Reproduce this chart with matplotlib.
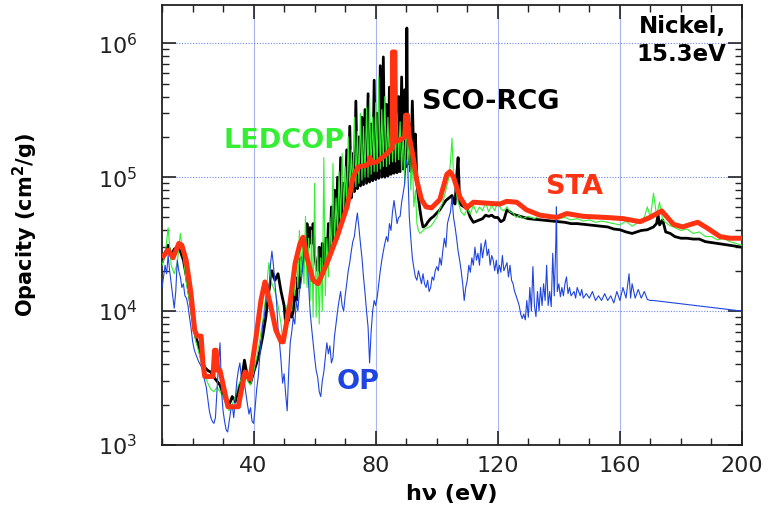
import matplotlib
matplotlib.use("Agg")
import matplotlib.pyplot as plt
import matplotlib.ticker as mticker

# photon energy (eV) and opacity (cm^2/g) for each code

sco_e = [10, 11, 12, 13, 14, 15, 16, 17, 18, 19, 20, 21, 22, 23, 24, 25, 26, 27, 28, 29,
         30, 31, 32, 33, 34, 35, 36, 37, 38, 39, 40, 41, 42, 43, 44, 45, 46, 47, 48, 49,
         50, 50.5, 51, 51.5, 52, 52.5, 53, 53.5, 54, 54.5, 55, 55.5, 56, 56.5, 57, 57.5,
         58, 58.5, 59, 59.5, 60, 60.5, 61, 61.5, 62, 62.5, 63, 63.5, 64, 64.5, 65, 65.5,
         66, 66.5, 67, 67.5, 68, 68.5, 69, 69.5, 70, 70.5, 71, 71.5, 72, 72.5, 73, 73.5,
         74, 74.5, 75, 75.5, 76, 76.5, 77, 77.5, 78, 78.5, 79, 79.5, 80, 80.5, 81, 81.5,
         82, 82.5, 83, 83.5, 84, 84.5, 85, 85.5, 86, 86.5, 87, 87.5, 88, 88.5, 89, 89.5,
         90, 90.2, 90.5, 91, 91.5, 92, 92.5, 93, 93.5, 94, 94.5, 95, 95.5, 96, 96.5, 97,
         98, 99, 100, 101, 102, 103, 104, 105, 105.5, 106, 106.5, 107, 107.5, 108, 109,
         110, 111, 112, 113, 114, 115, 116, 117, 118, 119, 120, 121, 122, 123, 124, 125,
         126, 128, 130, 132, 134, 136, 138, 140, 142, 144, 146, 148, 150, 152, 154, 156,
         158, 160, 162, 164, 165.5, 167, 169, 171, 172, 172.5, 173, 174, 175, 176.5, 178,
         180, 182, 184, 186, 188, 190, 192, 194, 196, 198, 200]
sco_v = [2.3e4, 2.7e4, 3.1e4, 2.6e4, 2.9e4, 3.0e4, 2.8e4, 2.4e4, 1.8e4, 1.3e4,
         9.0e3, 6.5e3, 5.5e3, 4.3e3, 3.8e3, 3.6e3, 3.5e3, 3.2e3, 3.0e3, 2.8e3,
         2.4e3, 2.1e3, 2.0e3, 2.3e3, 2.1e3, 2.6e3, 3.0e3, 4.3e3, 3.2e3, 2.9e3,
         3.5e3, 4.1e3, 5.0e3, 6.5e3, 9.0e3, 1.4e4, 2.0e4, 1.7e4, 1.9e4, 1.4e4,
         1.1e4, 8.0e3, 9.5e3, 8.5e3, 1.2e4, 9.0e3, 1.0e4, 1.4e4, 1.2e4, 1.8e4,
         1.5e4, 2.5e4, 2.0e4, 3.5e4, 2.6e4, 4.5e4, 3.0e4, 4.2e4, 3.2e4, 4.5e4,
         2.6e4, 2.2e4, 2.0e4, 3.0e4, 1.8e4, 3.2e4, 1.9e4, 3.5e4, 2.2e4, 4.5e4,
         2.5e4, 6.0e4, 2.9e4, 8.0e4, 3.3e4, 1.0e5, 3.8e4, 1.4e5, 4.6e4, 9.0e4,
         5.5e4, 1.6e5, 6.2e4, 2.4e5, 7.0e4, 1.5e5, 7.8e4, 3.7e5, 8.2e4, 2.0e5,
         8.6e4, 2.8e5, 8.8e4, 3.2e5, 9.0e4, 4.2e5, 9.2e4, 2.5e5, 9.4e4, 5.3e5,
         9.6e4, 3.0e5, 9.8e4, 6.8e5, 1.0e5, 7.9e5, 1.0e5, 3.5e5, 1.02e5, 4.7e5,
         1.05e5, 3.0e5, 1.07e5, 6.6e5, 1.08e5, 4.0e5, 1.1e5, 5.6e5, 1.15e5, 4.5e5,
         1.2e5, 1.3e6, 1.25e5, 2.5e5, 1.1e5, 3.7e5, 1.3e5, 2.1e5, 9.0e4, 7.0e4,
         5.7e4, 4.8e4, 4.25e4, 4.3e4, 4.4e4, 4.6e4, 4.9e4, 5.1e4, 5.4e4, 5.7e4,
         6.2e4, 6.7e4, 7.0e4, 7.3e4, 6.5e4, 6.3e4, 1.0e5, 1.4e5, 6.5e4, 6.2e4,
         6.0e4, 5.8e4, 5.0e4, 4.6e4, 4.7e4, 4.8e4, 4.9e4, 5.2e4, 5.1e4, 5.2e4,
         5.0e4, 5.0e4, 4.65e4, 4.8e4, 5.7e4, 5.5e4, 5.3e4, 5.2e4, 5.05e4, 4.9e4,
         4.85e4, 4.8e4, 4.75e4, 4.7e4, 4.65e4, 4.6e4, 4.5e4, 4.5e4, 4.45e4, 4.4e4,
         4.35e4, 4.3e4, 4.25e4, 4.1e4, 4.05e4, 3.9e4, 3.8e4, 3.9e4, 4.0e4, 4.05e4,
         4.25e4, 4.5e4, 5.2e4, 4.4e4, 4.8e4, 3.9e4, 3.8e4, 3.6e4, 3.5e4, 3.5e4,
         3.45e4, 3.45e4, 3.3e4, 3.25e4, 3.2e4, 3.15e4, 3.1e4, 3.05e4, 3.0e4]

ledcop_e = [10, 11, 12, 13, 14, 15, 16, 17, 18, 19, 20, 21, 22, 23, 24, 25, 26, 27, 28, 29,
            30, 31, 32, 33, 34, 35, 36, 37, 38, 39, 40, 41, 42, 43, 44, 45, 46, 47, 48, 49,
            49.5, 50, 50.5, 51, 51.5, 52, 52.5, 53, 53.5, 54, 54.5, 55, 55.5, 56, 56.5, 57,
            57.5, 58, 58.5, 59, 59.5, 60, 60.5, 61, 61.5, 62, 62.5, 63, 63.5, 64, 64.5, 65,
            65.5, 66, 66.5, 67, 67.5, 68, 68.5, 69, 69.5, 70, 70.5, 71, 71.5, 72, 72.5, 73,
            73.5, 74, 74.5, 75, 75.5, 76, 76.5, 77, 77.5, 78, 78.5, 79, 79.5, 80, 80.5, 81,
            81.5, 82, 82.5, 83, 83.5, 84, 84.5, 85, 85.5, 86, 86.5, 87, 87.5, 88, 88.5, 89,
            89.5, 90, 90.5, 91, 91.5, 92, 92.5, 93, 93.5, 94, 94.5, 95, 96, 97, 98, 99, 100,
            101, 102, 103, 104, 104.5, 105, 105.5, 106, 107, 108, 109, 110, 111, 112, 113,
            114, 115, 116, 117, 118, 119, 120, 121, 122, 123, 124, 125, 126, 127, 128, 130,
            132, 134, 136, 138, 140, 142, 144, 146, 148, 150, 152, 154, 156, 158, 160, 162,
            164, 166, 168, 169, 170, 171, 172, 173, 174, 176, 178, 180, 182, 184, 186, 188,
            190, 192, 194, 196, 198, 200]
ledcop_v = [2.2e4, 2.6e4, 4.2e4, 2.2e4, 1.9e4, 2.3e4, 3.8e4, 2.5e4, 1.6e4, 1.2e4,
            8.0e3, 6.0e3, 5.0e3, 4.0e3, 3.3e3, 2.9e3, 2.6e3, 2.5e3, 2.7e3, 2.5e3,
            2.3e3, 2.0e3, 1.8e3, 2.0e3, 2.3e3, 2.8e3, 3.1e3, 3.6e3, 3.0e3, 2.8e3,
            3.5e3, 4.5e3, 6.0e3, 8.5e3, 1.3e4, 2.3e4, 1.6e4, 1.4e4, 1.1e4, 8.0e3,
            6.0e3, 7.5e3, 9.0e3, 1.1e4, 9.0e3, 1.4e4, 1.0e4, 1.8e4, 1.3e4, 2.6e4,
            1.5e4, 4.0e4, 1.8e4, 3.0e4, 1.6e4, 5.1e4, 1.5e4, 3.5e4, 1.2e4, 4.0e4,
            9.0e3, 9.0e4, 9.0e3, 3.0e4, 8.0e3, 2.5e4, 1.0e4, 1.4e5, 1.3e4, 3.5e4,
            1.8e4, 5.0e4, 2.5e4, 1.27e5, 3.0e4, 7.0e4, 3.8e4, 1.1e5, 4.5e4, 1.5e5,
            5.5e4, 1.2e5, 6.5e4, 2.0e5, 7.0e4, 1.6e5, 7.8e4, 2.8e5, 8.5e4, 2.2e5,
            9.0e4, 3.0e5, 9.5e4, 2.4e5, 1.0e5, 3.3e5, 1.0e5, 3.9e5, 1.05e5, 2.8e5,
            1.1e5, 3.6e5, 1.1e5, 5.6e5, 1.15e5, 3.2e5, 1.2e5, 4.0e5, 1.2e5, 2.8e5,
            1.25e5, 3.6e5, 1.3e5, 2.5e5, 1.3e5, 3.0e5, 1.35e5, 2.6e5, 1.1e5, 2.2e5,
            9.0e4, 3.0e5, 1.2e5, 2.0e5, 8.0e4, 1.4e5, 6.0e4, 8.0e4, 4.5e4, 4.0e4,
            3.8e4, 3.9e4, 4.1e4, 4.2e4, 4.3e4, 4.6e4, 5.0e4, 5.8e4, 6.5e4, 8.0e4,
            1.0e5, 1.3e5, 1.95e5, 1.0e5, 8.5e4, 6.5e4, 5.5e4, 5.2e4, 5.8e4, 5.3e4,
            6.2e4, 5.4e4, 6.0e4, 5.6e4, 6.5e4, 5.5e4, 6.2e4, 5.6e4, 6.6e4, 5.8e4,
            5.6e4, 6.0e4, 5.5e4, 5.4e4, 5.0e4, 5.2e4, 4.9e4, 5.1e4, 4.9e4, 5.2e4,
            5.0e4, 5.1e4, 4.9e4, 5.0e4, 4.8e4, 4.9e4, 4.7e4, 4.8e4, 4.6e4, 4.7e4,
            4.6e4, 4.5e4, 4.4e4, 4.7e4, 4.3e4, 4.6e4, 5.0e4, 6.0e4, 5.0e4, 7.6e4,
            5.2e4, 6.5e4, 4.8e4, 4.4e4, 4.2e4, 4.0e4, 4.1e4, 3.8e4, 3.9e4, 3.6e4,
            3.6e4, 3.4e4, 3.5e4, 3.3e4, 3.2e4, 3.1e4]

op_e = [10, 10.5, 11, 11.5, 12, 12.5, 13, 13.5, 14, 14.5, 15, 15.5, 16, 16.5, 17, 17.5,
        18, 18.5, 19, 19.5, 20, 20.5, 21, 21.5, 22, 22.5, 23, 23.5, 24, 24.5, 25, 25.5,
        26, 26.5, 27, 27.5, 28, 28.5, 29, 29.5, 30, 30.5, 31, 31.5, 32, 32.5, 33, 33.5,
        34, 34.5, 35, 35.5, 36, 36.5, 37, 37.5, 38, 38.5, 39, 39.5, 40, 40.5, 41, 41.5,
        42, 42.5, 43, 43.5, 44, 44.5, 45, 45.5, 46, 46.5, 47, 47.5, 48, 48.5, 49, 49.5,
        50, 50.5, 51, 51.5, 52, 52.5, 53, 53.5, 54, 54.5, 55, 55.5, 56, 56.5, 57, 57.5,
        58, 58.5, 59, 59.5, 60, 60.5, 61, 61.5, 62, 62.5, 63, 63.5, 64, 64.5, 65, 65.5,
        66, 66.5, 67, 67.5, 68, 68.5, 69, 69.5, 70, 70.5, 71, 71.5, 72, 72.5, 73, 73.5,
        74, 74.5, 75, 75.5, 76, 76.5, 77, 77.5, 78, 78.5, 79, 79.5, 80, 80.5, 81, 81.5,
        82, 82.5, 83, 83.5, 84, 84.5, 85, 85.5, 86, 86.5, 87, 87.5, 88, 88.5, 89, 89.5,
        90, 90.5, 91, 91.5, 92, 92.5, 93, 93.5, 94, 94.5, 95, 95.5, 96, 96.5, 97, 97.5,
        98, 98.5, 99, 99.5, 100, 100.5, 101, 101.5, 102, 102.5, 103, 103.5, 104, 104.5,
        105, 105.5, 106, 106.5, 107, 107.5, 108, 108.5, 109, 109.5, 110, 110.5, 111,
        111.5, 112, 112.5, 113, 113.5, 114, 114.5, 115, 115.5, 116, 116.5, 117, 117.5,
        118, 118.5, 119, 119.5, 120, 120.5, 121, 121.5, 122, 122.5, 123, 123.5, 124,
        124.5, 125, 125.5, 126, 126.5, 127, 127.5, 128, 128.5, 129, 129.5, 130, 130.5,
        131, 131.5, 132, 132.5, 133, 133.5, 134, 134.5, 135, 135.5, 136, 136.5, 137,
        137.5, 138, 138.5, 139, 139.2, 139.5, 140, 140.5, 141, 141.5, 142, 142.5, 143,
        143.5, 144, 145, 145.5, 146, 147, 147.5, 148, 149, 150, 151, 152, 153, 154, 155,
        156, 157, 158, 159, 160, 161, 162, 163, 163.5, 164, 165, 166, 167, 168, 169, 170,
        171, 200]
op_v = [1.5e4, 1.8e4, 2.2e4, 1.9e4, 2.6e4, 2.0e4, 1.6e4, 1.3e4, 1.05e4, 1.4e4,
        2.4e4, 2.0e4, 1.8e4, 1.5e4, 1.6e4, 1.3e4, 1.25e4, 1.1e4, 9.0e3, 7.5e3,
        6.0e3, 5.2e3, 4.8e3, 4.5e3, 4.2e3, 4.0e3, 3.8e3, 3.5e3, 3.0e3, 2.7e3,
        2.2e3, 1.8e3, 1.6e3, 1.5e3, 1.45e3, 1.6e3, 2.5e3, 4.0e3, 5.8e3, 2.5e3,
        1.8e3, 1.5e3, 1.3e3, 1.25e3, 1.5e3, 1.8e3, 2.0e3, 1.6e3, 2.2e3, 3.0e3,
        3.6e3, 4.1e3, 3.2e3, 2.6e3, 2.9e3, 2.4e3, 2.0e3, 1.7e3, 1.9e3, 1.5e3,
        1.45e3, 1.9e3, 2.6e3, 3.2e3, 4.5e3, 6.0e3, 8.0e3, 9.0e3, 1.2e4, 1.6e4,
        1.3e4, 2.2e4, 2.8e4, 2.2e4, 1.6e4, 1.2e4, 7.5e3, 5.8e3, 4.2e3, 2.9e3,
        3.4e3, 2.4e3, 1.8e3, 3.5e3, 5.8e3, 7.0e3, 9.0e3, 8.0e3, 1.2e4, 1.0e4,
        1.4e4, 1.6e4, 2.0e4, 2.85e4, 2.4e4, 3.0e4, 1.6e4, 1.0e4, 7.5e3, 5.8e3,
        4.5e3, 3.6e3, 3.2e3, 2.5e3, 2.3e3, 3.0e3, 3.5e3, 4.5e3, 5.8e3, 4.8e3,
        5.5e3, 4.1e3, 4.5e3, 6.5e3, 8.0e3, 1.0e4, 1.2e4, 1.4e4, 1.1e4, 1.0e4,
        1.3e4, 1.6e4, 2.0e4, 2.3e4, 2.8e4, 3.3e4, 3.6e4, 4.5e4, 5.4e4, 4.2e4,
        3.2e4, 2.5e4, 1.8e4, 1.37e4, 1.0e4, 7.6e3, 4.1e3, 7.0e3, 1.0e4, 1.2e4,
        1.1e4, 1.27e4, 1.6e4, 2.0e4, 2.4e4, 2.8e4, 3.2e4, 3.6e4, 3.3e4, 4.5e4,
        4.0e4, 5.5e4, 6.7e4, 5.5e4, 4.5e4, 5.0e4, 5.1e4, 6.5e4, 7.6e4, 9.0e4,
        1.35e5, 1.2e5, 5.1e4, 3.5e4, 2.5e4, 2.1e4, 1.8e4, 1.7e4, 2.0e4, 1.8e4,
        1.6e4, 1.9e4, 1.6e4, 1.5e4, 1.7e4, 1.4e4, 1.5e4, 1.8e4, 1.7e4, 2.0e4,
        2.15e4, 2.0e4, 2.5e4, 2.2e4, 2.85e4, 3.5e4, 3.0e4, 4.5e4, 5.0e4, 5.5e4,
        7.1e4, 5.0e4, 4.25e4, 3.5e4, 2.8e4, 2.4e4, 2.0e4, 1.6e4, 1.2e4, 1.5e4,
        1.7e4, 2.2e4, 1.95e4, 2.5e4, 2.2e4, 3.0e4, 2.4e4, 2.7e4, 2.2e4, 3.2e4,
        2.5e4, 3.0e4, 3.4e4, 2.6e4, 2.9e4, 2.2e4, 2.6e4, 2.4e4, 2.0e4, 2.4e4,
        1.9e4, 2.2e4, 1.95e4, 2.6e4, 2.0e4, 2.15e4, 2.3e4, 1.8e4, 2.2e4, 1.7e4,
        1.6e4, 1.4e4, 1.3e4, 1.2e4, 1.1e4, 9.5e3, 8.8e3, 9.5e3, 8.6e3, 1.2e4,
        9.0e3, 1.5e4, 1.0e4, 2.15e4, 1.1e4, 9.1e3, 1.4e4, 1.0e4, 1.5e4, 1.1e4,
        1.6e4, 1.2e4, 2.2e4, 1.1e4, 1.4e4, 1.08e4, 2.7e4, 1.3e4, 3.2e4, 6.0e4,
        1.4e4, 1.6e4, 1.28e4, 1.5e4, 1.3e4, 1.6e4, 1.8e4, 1.35e4, 1.5e4, 1.3e4,
        1.4e4, 1.25e4, 1.5e4, 1.3e4, 1.45e4, 1.25e4, 1.35e4, 1.25e4, 1.4e4, 1.2e4,
        1.3e4, 1.2e4, 1.35e4, 1.2e4, 1.3e4, 1.15e4, 1.4e4, 1.2e4, 1.5e4, 1.25e4,
        1.9e4, 1.25e4, 1.6e4, 1.25e4, 1.45e4, 1.25e4, 1.4e4, 1.22e4, 1.2e4, 1.2e4,
        1.0e4]

sta_e = [10, 12, 13.6, 15.5, 16.5, 17.9, 19.5, 20.7, 21.5, 22.8, 23.4, 24, 26.7, 27.2,
         27.7, 28.3, 29, 30.6, 31.6, 35, 36, 37.2, 38.8, 40.8, 42.4, 43.7, 45.4, 47.3,
         49, 49.7, 51.9, 53.6, 55.2, 56.2, 57.5, 59.5, 61.1, 64, 67.3, 70.6, 72.6, 74.2,
         77.1, 77.6, 78.1, 78.6, 80.4, 83.7, 85.4, 85.5, 86.3, 86.4, 88, 89.5, 89.8,
         90.4, 91, 92.3, 93.4, 95, 96.5, 98.3, 101, 103.3, 104.3, 105.5, 107.6, 109.8,
         112, 116.3, 120.7, 122.9, 126.2, 129.4, 133.8, 139.3, 142.6, 148, 155.7, 161.1,
         166.6, 169.8, 173.7, 177.5, 180.5, 184, 185.5, 188.4, 192.8, 196, 200]
sta_v = [2.5e4, 2.85e4, 2.5e4, 3.2e4, 3.1e4, 2.4e4, 1.35e4, 7.2e3, 6.5e3, 6.5e3,
         4.1e3, 3.25e3, 3.25e3, 5.1e3, 5.1e3, 3.6e3, 3.6e3, 2.45e3, 1.93e3, 1.93e3,
         2.57e3, 3.5e3, 3.1e3, 6.4e3, 1.2e4, 1.65e4, 1.15e4, 7.2e3, 5.9e3, 5.9e3,
         1.14e4, 2.27e4, 3.2e4, 3.56e4, 2.5e4, 1.7e4, 1.6e4, 2.27e4, 3.56e4, 6.0e4,
         1.0e5, 1.19e5, 1.23e5, 1.25e5, 1.4e5, 1.28e5, 1.3e5, 1.5e5, 1.65e5, 8.6e5,
         8.6e5, 1.85e5, 1.9e5, 2.0e5, 2.9e5, 2.9e5, 2.0e5, 1.4e5, 9.6e4, 6.8e4,
         6.0e4, 5.9e4, 6.8e4, 1.05e5, 1.1e5, 1.0e5, 7.1e4, 5.9e4, 6.5e4, 6.4e4,
         6.3e4, 6.6e4, 6.5e4, 5.7e4, 5.2e4, 5.0e4, 5.35e4, 5.1e4, 5.0e4, 4.9e4,
         4.65e4, 5.0e4, 5.6e4, 4.45e4, 4.25e4, 4.5e4, 4.6e4, 4.2e4, 3.6e4, 3.5e4,
         3.5e4]

x_ticks = [40, 80, 120, 160, 200]

W, H = 773, 522
fig = plt.figure(figsize=(W / 100, H / 100), dpi=100)
ax = fig.add_axes([0.2096, 0.1475, 0.7503, 0.8429])
ax.set_yscale("log")

ax.plot(sco_e, sco_v, color="black", lw=2.0, zorder=2)
ax.plot(ledcop_e, ledcop_v, color="#33ee33", lw=0.8, zorder=3)
ax.plot(op_e, op_v, color="#1f45e0", lw=0.8, zorder=4)
ax.plot(sta_e, sta_v, color="#ff3312", lw=3.6, zorder=5,
        solid_joinstyle="round", solid_capstyle="butt")

ax.set_xlim(10, 200)
ax.set_ylim(1e3, 1.93e6)

ax.set_xticks(x_ticks)
ax.xaxis.set_minor_locator(mticker.MultipleLocator(10))
ax.yaxis.set_major_locator(mticker.LogLocator(base=10))
ax.yaxis.set_minor_locator(mticker.LogLocator(base=10, subs=range(2, 10)))
ax.yaxis.set_minor_formatter(mticker.NullFormatter())

ax.xaxis.grid(True, which="major", color="#a8b4f0", lw=0.8)
ax.yaxis.grid(True, which="major", color="#6f86f0", lw=0.8, ls=(0, (1, 1.5)))
ax.set_axisbelow(True)

ax.tick_params(which="both", direction="in", top=True, right=True, colors="#222222")
ax.tick_params(which="major", length=10, width=1.2, labelsize=16)
ax.tick_params(which="minor", length=5, width=1.0)
ax.tick_params(axis="y", which="major", pad=18)
ax.tick_params(axis="x", which="major", pad=8)
for s in ax.spines.values():
    s.set_linewidth(1.3)
    s.set_color("#222222")

ax.set_xlabel("h\u03bd (eV)", fontsize=16, fontweight="bold", labelpad=6)
ax.set_ylabel("Opacity (cm$^\\mathbf{2}$/g)", fontsize=15, fontweight="bold")
ax.yaxis.set_label_coords(-0.21, 0.5)

ax.text(0.972, 0.978, "Nickel,\n15.3eV", transform=ax.transAxes, ha="right", va="top",
        fontsize=16.5, fontweight="bold", linespacing=1.3, zorder=6)

# curve labels, placed in pixel positions of the figure
labels = [("SCO-RCG", 491, 102, "black"),
          ("LEDCOP", 284, 141, "#33ee33"),
          ("STA", 574, 187, "#ff3312"),
          ("OP", 358, 382, "#1f45e0")]
for txt, px, py, col in labels:
    fig.text(px / W, 1 - py / H, txt, fontsize=19.5, fontweight="bold", color=col,
             ha="center", va="center", zorder=7)

fig.savefig("out.png", dpi=100)
